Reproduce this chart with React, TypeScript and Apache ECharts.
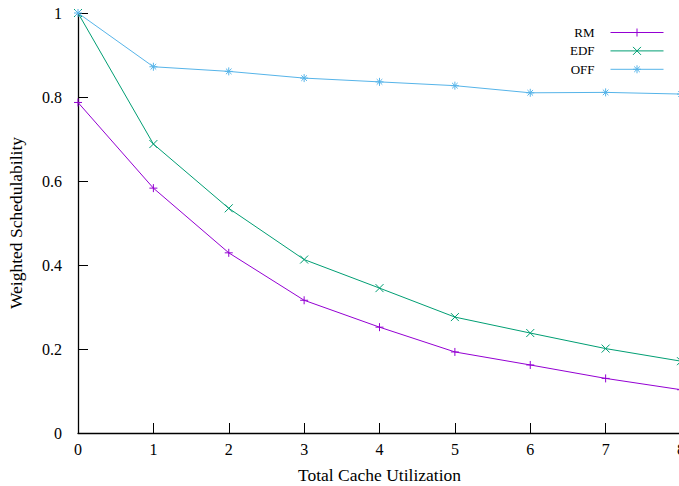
import React, { useEffect, useRef } from "react";
import * as echarts from "echarts";

const utilization = [0, 1, 2, 3, 4, 5, 6, 7, 8];
const rmValues = [0.787, 0.583, 0.429, 0.316, 0.252, 0.193, 0.162, 0.13, 0.103];
const edfValues = [1.0, 0.688, 0.535, 0.413, 0.345, 0.276, 0.238, 0.201, 0.171];
const offValues = [1.0, 0.872, 0.861, 0.845, 0.836, 0.827, 0.81, 0.811, 0.807];
const seriesNames = ["RM", "EDF", "OFF"];
const xTickLabels = ["0", "1", "2", "3", "4", "5", "6", "7", "8"];

const FONT = "Liberation Serif";
const PLUS = "path://M0,-1V1M-1,0H1";
const CROSS = "path://M-1,-1L1,1M-1,1L1,-1";
const STAR = "path://M0,-1V1M-1,0H1M-0.7,-0.7L0.7,0.7M-0.7,0.7L0.7,-0.7";

function pairs(vals: number[]) {
  return utilization.map((x, i) => [x, vals[i]]);
}

export default function App() {
  const ref = useRef<HTMLDivElement>(null);
  useEffect(() => {
    if (!ref.current) return;
    const chart = echarts.init(ref.current, null, { renderer: "svg" });
    const mk = (name: string, vals: number[], color: string, symbol: string) => ({
      name,
      type: "line",
      data: pairs(vals),
      symbol,
      symbolSize: 8,
      showAllSymbol: true,
      lineStyle: { color, width: 1 },
      itemStyle: { color: "none", borderColor: color, borderWidth: 1 },
      clip: false,
    });
    chart.setOption({
      animation: false,
      backgroundColor: "#ffffff",
      textStyle: { fontFamily: FONT },
      grid: {
        left: 78,
        top: 13,
        width: 603,
        height: 420,
        containLabel: false,
        outerBoundsMode: "none",
      },
      legend: {
        orient: "vertical",
        align: "right",
        right: 15,
        top: 26,
        padding: 0,
        itemWidth: 53,
        itemHeight: 10,
        itemGap: 5.4,
        data: seriesNames,
        lineStyle: { width: 1 },
        itemStyle: { borderWidth: 1 },
        textStyle: {
          fontFamily: FONT,
          fontSize: 13,
          lineHeight: 12,
          color: "#000",
          padding: [0, 11, 0, 0],
        },
      },
      xAxis: {
        type: "value",
        min: 0,
        max: 8,
        interval: 1,
        name: "Total Cache Utilization",
        nameLocation: "middle",
        nameGap: 33,
        nameTextStyle: { fontFamily: FONT, fontSize: 17.5, color: "#000" },
        axisLine: { lineStyle: { color: "#000", width: 1.3 } },
        axisTick: { inside: true, length: 10, lineStyle: { color: "#000" } },
        axisLabel: {
          fontFamily: FONT,
          fontSize: 16,
          color: "#000",
          margin: 8,
          formatter: (v: number) => xTickLabels[Math.round(v)] ?? String(v),
        },
        splitLine: { show: false },
      },
      yAxis: {
        type: "value",
        min: 0,
        max: 1,
        interval: 0.2,
        name: "Weighted Schedulability",
        nameLocation: "middle",
        nameGap: 53,
        nameTextStyle: { fontFamily: FONT, fontSize: 17.5, color: "#000" },
        axisLine: { show: true, lineStyle: { color: "#000", width: 1.3 } },
        axisTick: { show: true, inside: true, length: 10, lineStyle: { color: "#000" } },
        axisLabel: { fontFamily: FONT, fontSize: 16, color: "#000", margin: 16 },
        splitLine: { show: false },
      },
      series: [
        mk("RM", rmValues, "#9400d3", PLUS),
        mk("EDF", edfValues, "#009e73", CROSS),
        mk("OFF", offValues, "#56b4e9", STAR),
      ],
    });
    return () => chart.dispose();
  }, []);
  return (
    <div
      ref={ref}
      style={{ position: "fixed", left: 0, top: 0, width: 679, height: 486 }}
    />
  );
}
